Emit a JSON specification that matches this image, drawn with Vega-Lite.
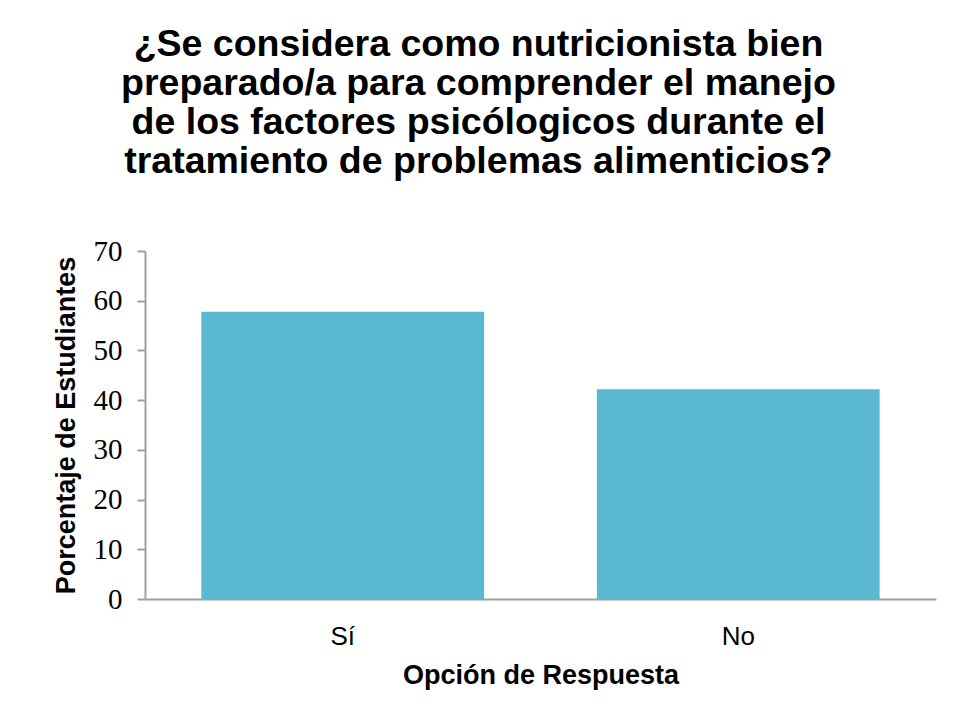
{
  "$schema": "https://vega.github.io/schema/vega-lite/v6.json",
  "width": 791,
  "height": 348,
  "autosize": {"type": "none"},
  "padding": {"left": 145, "top": 251, "right": 20, "bottom": 120},
  "background": "white",
  "title": {
    "text": ["¿Se considera como nutricionista bien", "preparado/a para comprender el manejo", "de los factores psicólogicos durante el", "tratamiento de problemas alimenticios?"],
    "font": "Liberation Sans",
    "fontSize": 37.5,
    "fontWeight": "bold",
    "color": "black",
    "anchor": "middle",
    "frame": "group",
    "dx": -62,
    "lineHeight": 39,
    "offset": 57
  },
  "data": {"values": [
    {"respuesta": "Sí", "porcentaje": 57.8},
    {"respuesta": "No", "porcentaje": 42.2}
  ]},
  "mark": {"type": "bar", "color": "#5AB8D1"},
  "encoding": {
    "x": {
      "field": "respuesta", "type": "nominal", "sort": ["Sí", "No"],
      "scale": {"paddingInner": 0.285, "paddingOuter": 0.1425},
      "axis": {
        "title": "Opción de Respuesta",
        "labelAngle": 0,
        "ticks": false,
        "domainColor": "#a0a0a0",
        "domainWidth": 2,
        "labelFont": "Liberation Sans",
        "labelFontSize": 26,
        "labelColor": "black",
        "labelPadding": 24,
        "titleFont": "Liberation Sans",
        "titleFontSize": 27,
        "titleFontWeight": "bold",
        "titleColor": "black",
        "titlePadding": 13
      }
    },
    "y": {
      "field": "porcentaje", "type": "quantitative",
      "scale": {"domain": [0, 70]},
      "axis": {
        "title": "Porcentaje de Estudiantes",
        "values": [0, 10, 20, 30, 40, 50, 60, 70],
        "grid": false,
        "tickSize": 8,
        "tickColor": "#a0a0a0",
        "tickWidth": 2,
        "domainColor": "#a0a0a0",
        "domainWidth": 2,
        "labelFont": "Liberation Serif",
        "labelFontSize": 29,
        "labelColor": "black",
        "labelPadding": 15,
        "titleFont": "Liberation Sans",
        "titleFontSize": 27,
        "titleFontWeight": "bold",
        "titleColor": "black",
        "titlePadding": 13
      }
    }
  },
  "config": {"view": {"stroke": null}}
}
